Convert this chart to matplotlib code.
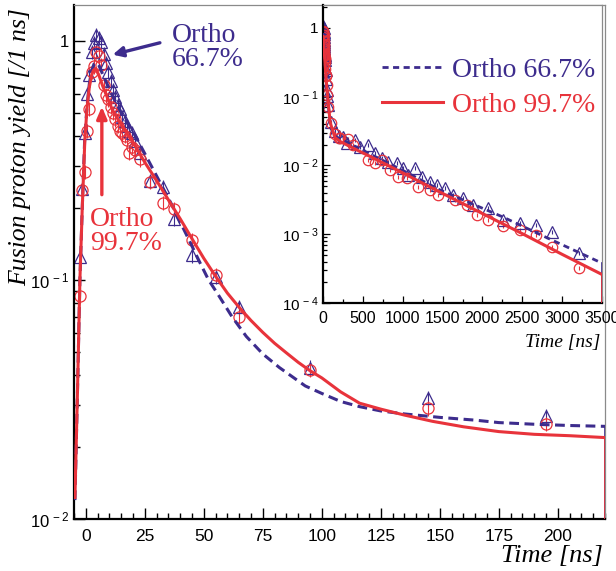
import matplotlib
matplotlib.use("Agg")
import numpy as np
import matplotlib.pyplot as plt
from matplotlib.ticker import FixedLocator, FixedFormatter, LogLocator, MultipleLocator, NullFormatter

plt.rcParams['font.family'] = ['Liberation Sans', 'DejaVu Sans']
plt.rcParams['mathtext.fontset'] = 'custom'
plt.rcParams['mathtext.rm'] = 'Liberation Sans'

PURPLE = '#3d2c8d'
RED = '#e8333b'
SERIF = 'Liberation Serif'
REL_ERR = 0.07  # size of the error bars, relative

# main panel: time bins [ns] and yields [/1 ns]
t_main = [-2.5, -1.5, -0.5, 0.5, 1.5, 2.5, 3.5, 4.5, 5.5, 6.5, 7.5, 8.5, 9.5,
          10.5, 11.5, 12.5, 13.5, 14.5, 15.5, 16.5, 17.5, 18.5, 19.5, 21, 23,
          27, 32.5, 37.5, 45, 55, 65, 95, 145, 195]
o667_main = [0.125, 0.24, 0.41, 0.60, 0.72, 0.90, 0.98, 1.06, 1.03, 0.99, 0.88,
             0.81, 0.74, 0.68, 0.62, 0.58, 0.54, 0.52, 0.48, 0.46, 0.44, 0.42,
             0.41, 0.38, 0.34, 0.26, 0.245, 0.18, 0.127, 0.103, 0.077, 0.043,
             0.032, 0.027]
o997_main = [0.086, 0.238, 0.283, 0.42, 0.52, 0.74, 0.78, 0.90, 0.86, 0.79, 0.65,
             0.59, 0.57, 0.53, 0.50, 0.47, 0.44, 0.42, 0.41, 0.40, 0.385, 0.34,
             0.36, 0.35, 0.32, 0.257, 0.21, 0.198, 0.147, 0.105, 0.070, 0.042,
             0.029, 0.025]

# fitted curves, main panel
fit_t_667 = [-4.6, -3.5, -2.5, -1.5, -0.5, 0.5, 1.5, 2.5, 3.5, 4.5, 5.5, 7, 9,
             12, 16, 21, 28.5, 36, 44, 48, 52, 56, 62, 68, 75, 82, 93, 100, 108,
             116, 125, 135, 150, 165, 175, 190, 205, 220]
fit_667 = [0.012, 0.035, 0.1, 0.2, 0.38, 0.53, 0.66, 0.75, 0.80, 0.81, 0.79,
           0.73, 0.66, 0.57, 0.48, 0.40, 0.29, 0.21, 0.145, 0.12, 0.10, 0.087,
           0.070, 0.058, 0.049, 0.043, 0.036, 0.0335, 0.031, 0.0295, 0.0283,
           0.0275, 0.0266, 0.0259, 0.0253, 0.0249, 0.0246, 0.0244]
fit_t_997 = [-4.6, -3.5, -2.5, -1.5, -0.4, 0.5, 1.5, 2.5, 3.2, 3.8, 4.5, 5.5,
             7.2, 11.4, 16, 20.8, 25, 30, 35, 40, 46, 50, 55, 60, 65, 70, 75, 80,
             85, 90, 95, 100, 108, 116, 125, 135, 147, 160, 175, 190, 205, 220]
fit_997 = [0.0123, 0.035, 0.1, 0.2, 0.385, 0.52, 0.64, 0.72, 0.75, 0.76, 0.75,
           0.72, 0.645, 0.51, 0.43, 0.365, 0.31, 0.26, 0.216, 0.18, 0.143, 0.123,
           0.1035, 0.088, 0.0767, 0.0676, 0.0603, 0.0543, 0.0495, 0.0452,
           0.0417, 0.0389, 0.034, 0.0305, 0.0288, 0.0272, 0.0256, 0.0243,
           0.0232, 0.0226, 0.0223, 0.0219]

# inset: long-time bins
t_long_667 = [251, 301, 401, 464, 565, 652, 740, 816, 928, 1004, 1066, 1154, 1242,
              1342, 1430, 1530, 1631, 1757, 1882, 2070, 2258, 2471, 2673, 2873,
              3212]
o667_long = [0.026, 0.021, 0.0235, 0.0185, 0.020, 0.0152, 0.0129, 0.0113, 0.0109,
             0.0092, 0.0073, 0.0092, 0.0068, 0.0058, 0.0052, 0.0047, 0.0037,
             0.0034, 0.0027, 0.0024, 0.00163, 0.00146, 0.00137, 0.00109, 0.00054]
t_long_997 = [213, 314, 376, 565, 652, 740, 841, 941, 1054, 1192, 1342, 1443, 1656,
              1807, 1932, 2070, 2258, 2471, 2673, 2873, 3212]
o997_long = [0.025, 0.024, 0.020, 0.012, 0.0109, 0.0122, 0.0086, 0.0068, 0.0066,
             0.0049, 0.0044, 0.0037, 0.0032, 0.0027, 0.0019, 0.0016, 0.00132,
             0.00115, 0.00097, 0.00065, 0.00032]

# inset fitted curves
ifit_t_667 = [0, 4.5, 20, 44, 93, 150, 220, 600, 1000, 1468, 2258, 2800, 3500]
ifit_667 = [0.53, 0.81, 0.41, 0.145, 0.036, 0.0266, 0.0244, 0.0145, 0.0085,
            0.0044, 0.00178, 0.00090, 0.00038]
ifit_t_997 = [0, 4, 20, 46, 90, 150, 220, 400, 700, 1000, 1468, 2000, 2500, 3000,
              3500]
ifit_997 = [0.45, 0.76, 0.38, 0.143, 0.042, 0.0255, 0.0222, 0.0174, 0.0117,
            0.0078, 0.0041, 0.0020, 0.00102, 0.00051, 0.00026]


def draw_points(ax, t, y, marker, color, ms):
    y = np.array(y)
    ax.errorbar(t, y, yerr=y * REL_ERR, fmt=marker, mfc='none', mec=color,
                ecolor=color, elinewidth=0.8, capsize=0, ms=ms, mew=0.9,
                zorder=2)


def style_spines(ax):
    for s in ('left', 'bottom'):
        ax.spines[s].set_linewidth(1.6)
        ax.spines[s].set_color('black')
    for s in ('top', 'right'):
        ax.spines[s].set_linewidth(0.9)
        ax.spines[s].set_color('#8a8a8a')


fig = plt.figure(figsize=(6.16, 5.71), dpi=100)
ax = fig.add_axes([74 / 616, 1 - 519 / 571, 531 / 616, 514 / 571])

draw_points(ax, t_main, o667_main, '^', PURPLE, 8.5)
draw_points(ax, t_main, o997_main, 'o', RED, 8)
ax.plot(fit_t_667, fit_667, color=PURPLE, lw=2.2, dashes=(3.2, 1.8), zorder=3)
ax.plot(fit_t_997, fit_997, color=RED, lw=2.2, zorder=4)
ax.plot([fit_t_667[-1]] * 2, [fit_667[-1], 0.01], color=PURPLE, lw=1.2, zorder=3)
ax.plot([fit_t_997[-1]] * 2, [fit_997[-1], 0.01], color=RED, lw=1.2, zorder=4)

ax.set_yscale('log')
ax.set_xlim(-5, 220)
ax.set_ylim(0.01, 1.41)
ax.xaxis.set_major_locator(MultipleLocator(25))
ax.xaxis.set_minor_locator(MultipleLocator(5))
ax.yaxis.set_major_locator(FixedLocator([0.01, 0.1, 1]))
ax.yaxis.set_major_formatter(FixedFormatter([r'$\mathregular{10^{\,-2}}$',
                                             r'$\mathregular{10^{\,-1}}$',
                                             r'$\mathregular{1^{\quad}}$']))
ax.yaxis.set_minor_locator(LogLocator(subs=np.arange(2, 10)))
ax.yaxis.set_minor_formatter(NullFormatter())
ax.tick_params(which='both', direction='in', top=False, right=False,
               labelsize=12.5, width=1.0, color='black')
ax.tick_params(axis='y', labelsize=12)
ax.tick_params(which='major', length=8)
ax.tick_params(which='minor', length=4.5)
ax.tick_params(axis='x', pad=7)
ax.tick_params(axis='y', pad=3)
style_spines(ax)

ax.set_xlabel('Time [ns]', family=SERIF, style='italic', fontsize=19, loc='right')
ax.xaxis.set_label_coords(1 - 2 / 531, -0.05)
ax.set_ylabel('Fusion proton yield [/1 ns]', family=SERIF, style='italic',
              fontsize=18.5, loc='top')
ax.yaxis.set_label_coords(-0.08, 0.993)

ax.text(36.4, 1.19, 'Ortho\n66.7%', family=SERIF, fontsize=20, color=PURPLE,
        va='top', ha='left', linespacing=0.95)
ax.annotate('', xy=(11.4, 0.874), xytext=(31.4, 0.98),
            arrowprops=dict(arrowstyle='-|>,head_length=0.6,head_width=0.3',
                            color=PURPLE, lw=2.4, shrinkA=0, shrinkB=0))
ax.text(1.7, 0.202, 'Ortho\n99.7%', family=SERIF, fontsize=20, color=RED,
        va='top', ha='left', linespacing=0.95)
ax.annotate('', xy=(6.8, 0.53), xytext=(6.8, 0.227),
            arrowprops=dict(arrowstyle='-|>,head_length=0.7,head_width=0.3',
                            color=RED, lw=2.4, shrinkA=0, shrinkB=0))

# inset: long time range
ins = fig.add_axes([323 / 616, 1 - 303 / 571, 279 / 616, 298 / 571])
ins.set_facecolor('white')
draw_points(ins, t_main + t_long_667, o667_main + o667_long, '^', PURPLE, 8)
draw_points(ins, t_main + t_long_997, o997_main + o997_long, 'o', RED, 7.5)
l667, = ins.plot(ifit_t_667, ifit_667, color=PURPLE, lw=2.0, dashes=(2.2, 1.6),
                 zorder=3)
l997, = ins.plot(ifit_t_997, ifit_997, color=RED, lw=2.2, zorder=4)
ins.plot([ifit_t_667[-1]] * 2, [ifit_667[-1], 1e-4], color=PURPLE, lw=1.2, zorder=3)
ins.plot([ifit_t_997[-1]] * 2, [ifit_997[-1], 1e-4], color=RED, lw=1.2, zorder=4)

ins.set_yscale('log')
ins.set_xlim(0, 3500)
ins.set_ylim(1e-4, 2.16)
ins.xaxis.set_major_locator(MultipleLocator(500))
ins.xaxis.set_minor_locator(MultipleLocator(250))
ins.yaxis.set_major_locator(FixedLocator([1e-4, 1e-3, 1e-2, 1e-1, 1]))
ins.yaxis.set_major_formatter(FixedFormatter([r'$\mathregular{10^{\,-4}}$',
                                              r'$\mathregular{10^{\,-3}}$',
                                              r'$\mathregular{10^{\,-2}}$',
                                              r'$\mathregular{10^{\,-1}}$',
                                              r'$\mathregular{1^{\quad}}$']))
ins.yaxis.set_minor_locator(LogLocator(subs=np.arange(2, 10)))
ins.yaxis.set_minor_formatter(NullFormatter())
ins.tick_params(which='both', direction='in', top=False, right=False,
                labelsize=11, width=0.9, color='black')
ins.tick_params(which='major', length=5)
ins.tick_params(which='minor', length=3)
ins.tick_params(axis='x', pad=6, labelsize=11.5)
ins.tick_params(axis='y', pad=3)
style_spines(ins)

ins.set_xlabel('Time [ns]', family=SERIF, style='italic', fontsize=14, loc='right')
ins.xaxis.set_label_coords(0.993, -0.105)

leg = ins.legend([l667, l997], ['Ortho 66.7%', 'Ortho 99.7%'],
                 loc='upper left', bbox_to_anchor=(0.21, 0.823), frameon=False,
                 prop=dict(family=SERIF, size=20), handlelength=2.2,
                 handletextpad=0.35, labelspacing=0.32, borderpad=0,
                 borderaxespad=0)
for txt, col in zip(leg.get_texts(), (PURPLE, RED)):
    txt.set_color(col)

fig.savefig('out.png', dpi=100)
